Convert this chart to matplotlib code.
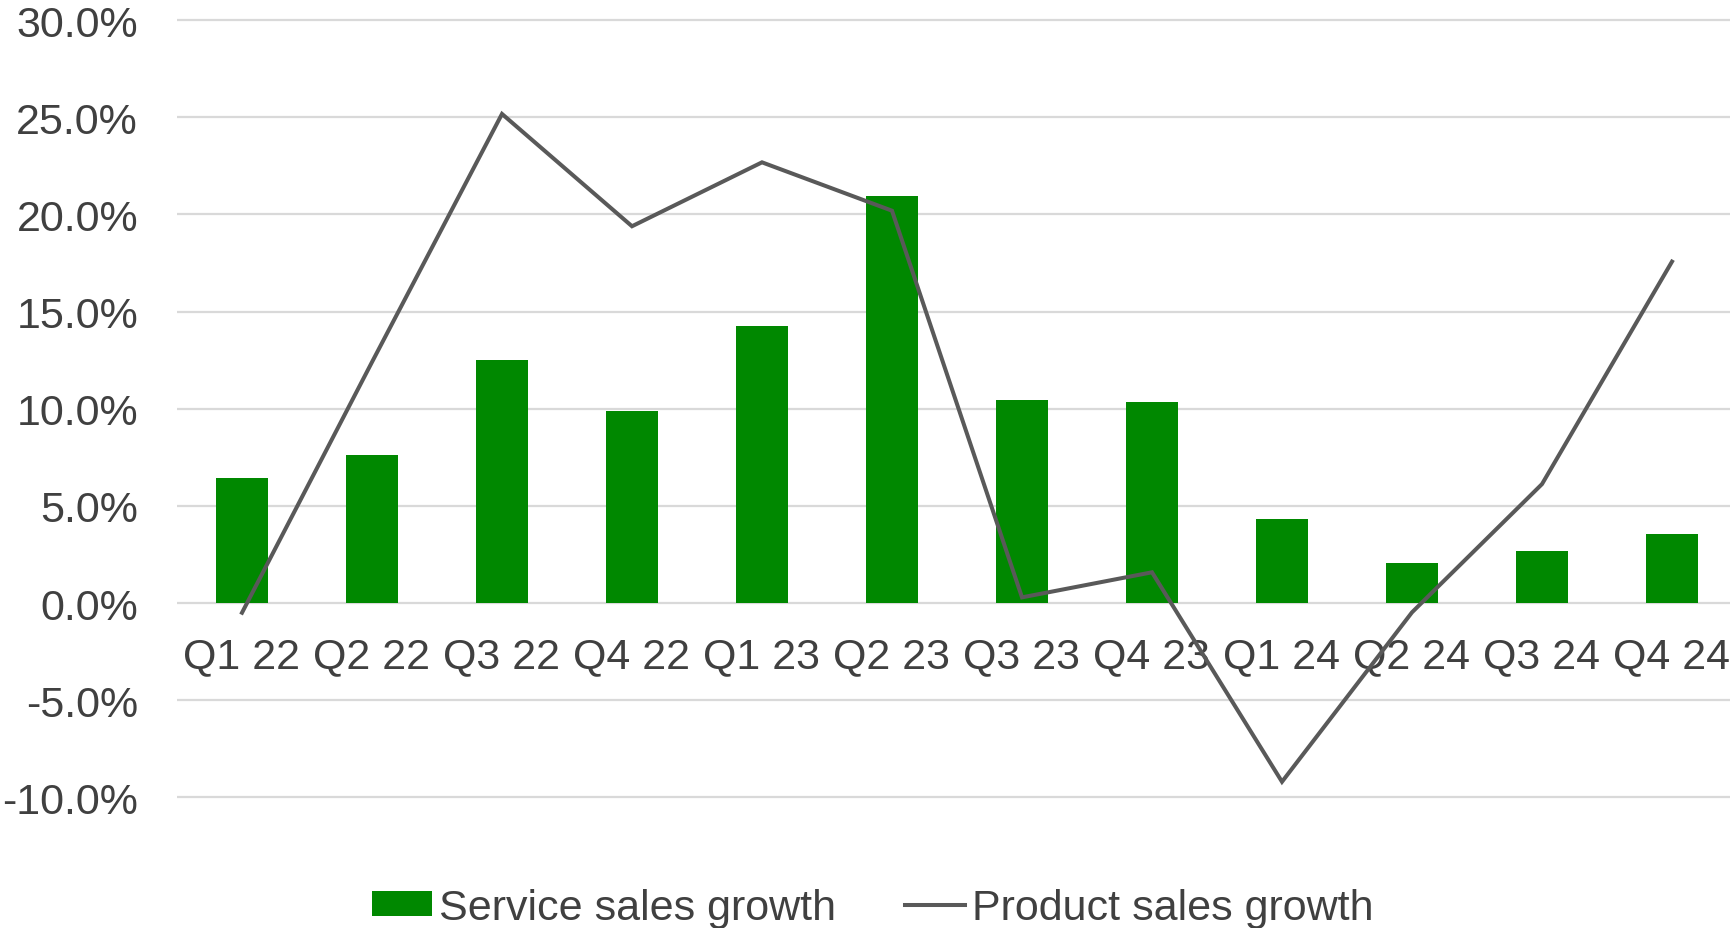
import matplotlib
matplotlib.use('Agg')
import matplotlib.pyplot as plt
import numpy as np
from matplotlib.ticker import FuncFormatter

plt.rcParams['font.family'] = ['Liberation Sans', 'DejaVu Sans']

# ── data ─────────────────────────────────────────────────────────────────────
quarters = ['Q1 22', 'Q2 22', 'Q3 22', 'Q4 22', 'Q1 23', 'Q2 23',
            'Q3 23', 'Q4 23', 'Q1 24', 'Q2 24', 'Q3 24', 'Q4 24']
service_growth = [6.42, 7.63, 12.52, 9.90, 14.24, 20.95,
                  10.45, 10.33, 4.32, 2.06, 2.68, 3.57]
product_growth = [-0.5, 12.4, 25.17, 19.39, 22.68, 20.19,
                  0.29, 1.58, -9.20, -0.48, 6.12, 17.57]
y_ticks = [-10, -5, 0, 5, 10, 15, 20, 25, 30]

TEXT = '#404040'
GREEN = '#008800'
LINE = '#595959'
GRID = '#d9d9d9'

W, H = 1731, 929
fig = plt.figure(figsize=(W / 100, H / 100), dpi=100)
# plot area in pixels: x 177..1737, y 15..805
ax = fig.add_axes([177 / W, 1 - 805 / H, 1560 / W, 790 / H])

x = np.arange(len(quarters))
bars = ax.bar(x, service_growth, width=0.4, color=GREEN, zorder=2,
              label='Service sales growth')
line, = ax.plot(x, product_growth, color=LINE, lw=2.9, zorder=3,
                solid_joinstyle='miter', label='Product sales growth')

ax.set_xlim(-0.5, 11.5)
# 0% sits at y=604 px, 19.43 px per percent
ax.set_ylim(-(805 - 604) / 19.43, (604 - 15) / 19.43)
ax.set_yticks(y_ticks)
ax.yaxis.set_major_formatter(FuncFormatter(lambda v, p: f'{v:.1f}%'))
ax.grid(axis='y', color=GRID, lw=1.6, zorder=0)
ax.set_axisbelow(True)

for s in ax.spines.values():
    s.set_visible(False)
# category labels sit just under the 0% line
ax.spines['bottom'].set_position(('data', 0))
ax.set_xticks(x)
ax.set_xticklabels(quarters)
ax.tick_params(axis='x', length=0, pad=24, labelsize=31, labelcolor=TEXT)
ax.tick_params(axis='y', length=0, pad=28, labelsize=31, labelcolor=TEXT)

leg = fig.legend([bars, line], ['Service sales growth', 'Product sales growth'],
                 loc='center', bbox_to_anchor=(873 / W, 1 - 909 / H), ncol=2,
                 frameon=False, fontsize=31, handlelength=1.4, handleheight=0.5,
                 handletextpad=0.16, columnspacing=1.6, borderaxespad=0)
for t in leg.get_texts():
    t.set_color(TEXT)

fig.savefig('out.png', dpi=100, facecolor='white')
